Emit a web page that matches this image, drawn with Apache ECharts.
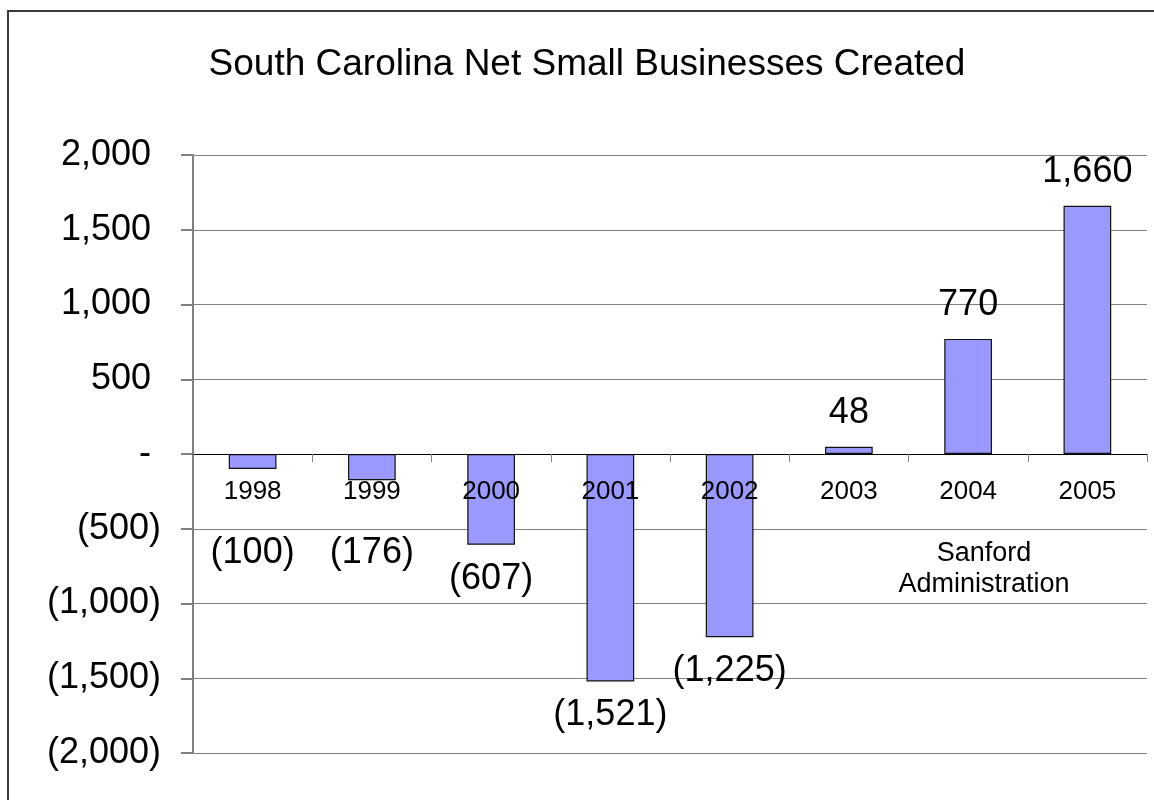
<!DOCTYPE html>
<html>
<head>
<meta charset="utf-8">
<title>South Carolina Net Small Businesses Created</title>
<script src="https://cdn.jsdelivr.net/npm/echarts@6/dist/echarts.min.js"></script>
<style>
  html, body { margin: 0; padding: 0; background: #fff; }
  #chart { width: 1154px; height: 800px; }
</style>
</head>
<body>
<div id="chart"></div>
<script>
// Net small businesses created per year
const years = ['1998', '1999', '2000', '2001', '2002', '2003', '2004', '2005'];
const netCreated = [-100, -176, -607, -1521, -1225, 48, 770, 1660];
const yTickValues = [2000, 1500, 1000, 500, 0, -500, -1000, -1500, -2000];

const FONT = '"Liberation Sans", Arial, Helvetica, sans-serif';
const BAR_COLOR = '#9999ff';
// negative value labels are kept below the year labels
const NEG_LABEL_FLOOR = 553;
const LABEL_DIST = 16;
const LABEL_SIZE = 36;

// accounting style: thousands separators, negatives in parentheses, zero as a dash
function fmt(v) {
  if (v === 0) return '-';
  const s = Math.abs(v).toLocaleString('en-US');
  return v < 0 ? '(' + s + ')' : s;
}

// positive tick labels leave room for the closing parenthesis
function tickFmt(v) {
  return v < 0 ? fmt(v) : '{pad|' + fmt(v) + '}';
}

const chart = echarts.init(document.getElementById('chart'), null, { renderer: 'canvas' });

function buildData(offsets) {
  return netCreated.map((v, i) => ({
    value: v,
    label: {
      position: v >= 0 ? 'top' : 'bottom',
      offset: [0, offsets ? offsets[i] : 0]
    }
  }));
}

const option = {
  animation: false,
  backgroundColor: '#fff',
  textStyle: { fontFamily: FONT },
  graphic: [
    {
      type: 'polyline',
      shape: { points: [[8, 800], [8, 11], [1154, 11]] },
      style: { stroke: '#3a3a3a', lineWidth: 2, fill: null },
      silent: true
    },
    {
      type: 'text',
      x: 587,
      y: 65,
      style: {
        text: 'South Carolina Net Small Businesses Created',
        fontFamily: FONT,
        fontSize: 37,
        fill: '#000',
        align: 'center',
        verticalAlign: 'middle'
      }
    },
    {
      type: 'text',
      x: 984,
      y: 569,
      style: {
        text: 'Sanford\nAdministration',
        fontFamily: FONT,
        fontSize: 27,
        lineHeight: 31,
        fill: '#000',
        align: 'center',
        verticalAlign: 'middle'
      }
    }
  ],
  grid: { left: 193, right: 7, top: 155, bottom: 47, containLabel: false },
  xAxis: {
    type: 'category',
    data: years,
    z: 5,
    boundaryGap: true,
    axisLine: { onZero: true, lineStyle: { color: '#000', width: 1 } },
    axisTick: { show: true, length: 8, inside: false, lineStyle: { color: '#808080', width: 1 } },
    axisLabel: { show: false }
  },
  yAxis: {
    type: 'value',
    min: -2000,
    max: 2000,
    interval: 500,
    axisLine: { show: true, lineStyle: { color: '#808080', width: 2 } },
    axisTick: { show: true, length: 12, lineStyle: { color: '#808080', width: 2 } },
    axisLabel: {
      margin: 32,
      fontSize: 36,
      color: '#000',
      fontFamily: FONT,
      formatter: tickFmt,
      customValues: yTickValues,
      rich: { pad: { fontSize: 36, fontFamily: FONT, color: '#000', padding: [0, 10, 0, 0] } }
    },
    splitLine: { show: true, lineStyle: { color: '#808080', width: 1 } }
  },
  series: [
    {
      type: 'bar',
      data: buildData(null),
      barWidth: '40%',
      itemStyle: { color: BAR_COLOR, borderColor: '#111', borderWidth: 1.2 },
      label: {
        show: true,
        distance: LABEL_DIST,
        fontSize: LABEL_SIZE,
        fontFamily: FONT,
        color: '#000',
        formatter: p => fmt(p.value)
      }
    },
    {
      // year labels riding on the zero line, drawn above the bars
      type: 'scatter',
      z: 6,
      symbolSize: 0,
      silent: true,
      itemStyle: { opacity: 1 },
      data: years.map(() => 0),
      label: {
        show: true,
        position: 'bottom',
        distance: 25,
        fontSize: 26,
        fontFamily: FONT,
        color: '#000',
        opacity: 1,
        formatter: p => p.name
      }
    }
  ]
};

chart.setOption(option);

// push the labels of shallow negative bars down below the year labels
const offsets = netCreated.map(v => {
  if (v >= 0) return 0;
  const endY = chart.convertToPixel({ yAxisIndex: 0 }, v);
  const center = endY + LABEL_DIST + LABEL_SIZE / 2;
  return center < NEG_LABEL_FLOOR ? NEG_LABEL_FLOOR - center : 0;
});
chart.setOption({ series: [{ data: buildData(offsets) }] });
</script>
</body>
</html>
